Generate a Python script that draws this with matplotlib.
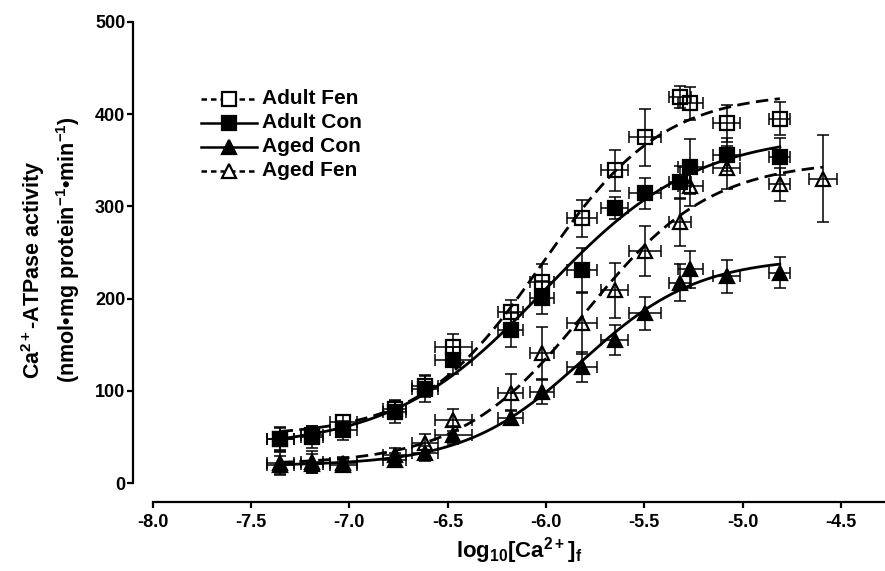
import numpy as np
import matplotlib
matplotlib.use('Agg')
import matplotlib.pyplot as plt
from matplotlib.lines import Line2D

plt.rcParams['font.family'] = ['Liberation Sans', 'DejaVu Sans']
plt.rcParams['font.weight'] = 'bold'
plt.rcParams['mathtext.fontset'] = 'custom'
plt.rcParams['mathtext.rm'] = 'Liberation Sans:bold'
plt.rcParams['mathtext.it'] = 'Liberation Sans:bold'
plt.rcParams['mathtext.bf'] = 'Liberation Sans:bold'
plt.rcParams['mathtext.default'] = 'rm'
plt.rcParams['axes.unicode_minus'] = False

# log10 free Ca2+ (shared by all groups) and its SEM
log_ca = [-7.35, -7.19, -7.03, -6.77, -6.615, -6.47, -6.18, -6.02, -5.815,
          -5.65, -5.495, -5.317, -5.266, -5.08, -4.81]
log_ca_sem = [0.07, 0.055, 0.068, 0.06, 0.065, 0.095, 0.065, 0.06, 0.076,
              0.07, 0.08, 0.055, 0.064, 0.068, 0.053]
aged_fen_x = log_ca + [-4.59]
aged_fen_x_sem = log_ca_sem + [0.072]

# Ca2+-ATPase activity (nmol/mg protein/min), mean and SEM
adult_fen = [48, 52, 66, 80, 105, 147, 185, 218, 287, 339, 375, 419, 412, 390, 395]
adult_fen_sem = [12, 10, 8, 10, 12, 15, 14, 20, 20, 22, 31, 12, 18, 20, 18]
adult_con = [48, 50, 57, 77, 102, 133, 166, 201, 231, 298, 314, 326, 343, 356, 354]
adult_con_sem = [13, 12, 10, 12, 14, 15, 18, 18, 24, 12, 17, 18, 30, 18, 20]
aged_con = [19, 21, 19, 25, 32, 52, 71, 99, 126, 155, 184, 217, 232, 224, 228]
aged_con_sem = [10, 10, 6, 8, 8, 10, 8, 13, 16, 16, 18, 20, 20, 18, 17]
aged_fen = [22, 23, 22, 30, 43, 68, 98, 141, 173, 209, 252, 283, 322, 342, 324, 330]
aged_fen_sem = [12, 12, 6, 8, 10, 12, 20, 28, 33, 30, 27, 26, 22, 23, 18, 47]

x_ticks = [-8.0, -7.5, -7.0, -6.5, -6.0, -5.5, -5.0, -4.5]
y_ticks = [0, 100, 200, 300, 400, 500]


def fit_curve(x, y):
    # 4-parameter sigmoid, grid over logEC50 / Hill slope, linear solve for bottom/span
    x = np.asarray(x, float)
    y = np.asarray(y, float)
    ec = np.arange(-7.0, -5.0, 0.005)[:, None, None]
    hill = np.arange(0.3, 2.0, 0.01)[None, :, None]
    s = 1.0 / (1.0 + 10 ** ((ec - x) * hill))
    sm = s.mean(-1, keepdims=True)
    ym = y.mean()
    span = ((s - sm) * (y - ym)).sum(-1) / ((s - sm) ** 2).sum(-1)
    base = ym - span * sm[..., 0]
    sse = ((base[..., None] + span[..., None] * s - y) ** 2).sum(-1)
    i, j = np.unravel_index(np.argmin(sse), sse.shape)
    return base[i, j], span[i, j], ec[i, 0, 0], hill[0, j, 0]


W, H = 885, 571
fig = plt.figure(figsize=(W / 100, H / 100), dpi=100)
ax = fig.add_axes([152.7 / W, (H - 483) / H, (W - 152.7) / W, (483 - 22) / H])

groups = [
    ('Adult Fen', log_ca, log_ca_sem, adult_fen, adult_fen_sem, 's', 'none', (0, (4.5, 2.3))),
    ('Adult Con', log_ca, log_ca_sem, adult_con, adult_con_sem, 's', 'black', '-'),
    ('Aged Con', log_ca, log_ca_sem, aged_con, aged_con_sem, '^', 'black', '-'),
    ('Aged Fen', aged_fen_x, aged_fen_x_sem, aged_fen, aged_fen_sem, '^', 'none', (0, (4.5, 2.3))),
]

for name, x, xs, y, ys, mk, fc, ls in groups:
    ax.errorbar(x, y, xerr=xs, yerr=ys, fmt='none', ecolor='black',
                elinewidth=1.1, capsize=4.5, capthick=1.1, zorder=2)
    ax.plot(x, y, linestyle='none', marker=mk, markersize=10,
            markerfacecolor=fc, markeredgecolor='black', markeredgewidth=1.6, zorder=3)
    b, sp, ec, h = fit_curve(x, y)
    xx = np.linspace(min(x), max(x), 300)
    ax.plot(xx, b + sp / (1 + 10 ** ((ec - xx) * h)), color='black', lw=2,
            linestyle=ls, zorder=4)

ax.set_xlim(-8.0, -8.0 + (W - 152.7) / 196.6)
ax.set_ylim(0, 500)
ax.set_xticks(x_ticks)
ax.set_xticklabels(['%.1f' % v for v in x_ticks])
ax.set_yticks(y_ticks)
for side in ['top', 'right']:
    ax.spines[side].set_visible(False)
ax.spines['left'].set_position(('outward', 14.2))
ax.spines['bottom'].set_position(('outward', 13.5))
for side in ['left', 'bottom']:
    ax.spines[side].set_linewidth(1.6)
ax.tick_params(axis='both', width=1.6, length=4.5, labelsize=13)
ax.tick_params(axis='x', pad=4)
ax.tick_params(axis='y', pad=1)

# axis titles
fig.text(33 / W, 1 - 270 / H, 'Ca$^{2+}$-ATPase activity', rotation=90,
         ha='center', va='center', fontsize=15.5)
fig.text(68 / W, 1 - 250 / H,
         '(nmol\u2022mg protein$^{-1}$\u2022min$^{-1}$)', rotation=90,
         ha='center', va='center', fontsize=15.5)
fig.text(519 / W, 1 - 551 / H, 'log$_{10}$[Ca$^{2+}$]$_f$',
         ha='center', va='center', fontsize=16)

# legend
for i, (name, x, xs, y, ys, mk, fc, ls) in enumerate(groups):
    yy = 1 - (99 + 24 * i) / H
    lst = (0, (2.2, 1.6)) if ls != '-' else '-'
    fig.add_artist(Line2D([201 / W, 257 / W], [yy, yy], color='black', lw=1.8,
                          linestyle=lst, transform=fig.transFigure))
    fig.add_artist(Line2D([229 / W], [yy], marker=mk, markersize=10,
                          markerfacecolor='white' if fc == 'none' else 'black',
                          markeredgecolor='black', markeredgewidth=1.6,
                          transform=fig.transFigure))
    fig.text(262 / W, yy, name, ha='left', va='center', fontsize=15)

fig.savefig('out.png', dpi=100)
